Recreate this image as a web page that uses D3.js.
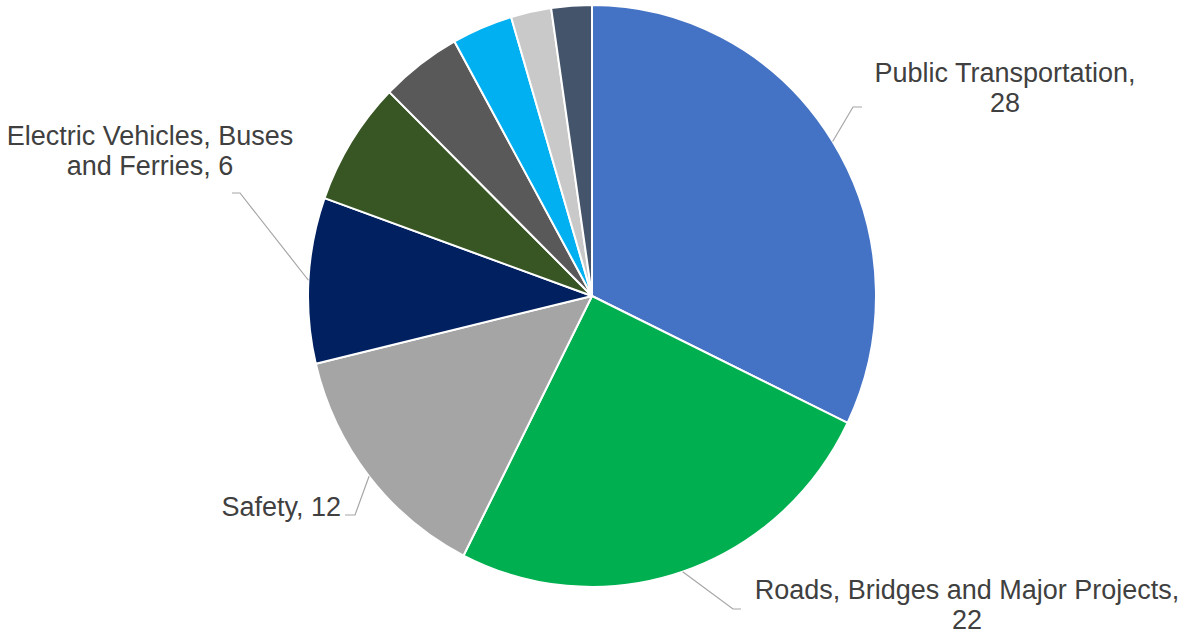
<!DOCTYPE html>
<html><head><meta charset="utf-8">
<script src="https://cdn.jsdelivr.net/npm/d3@7"></script>
<style>html,body{margin:0;padding:0;background:#fff;}svg{display:block;}</style>
</head><body>
<svg id="chart" width="1186" height="635"></svg>
<script>
const categories = ["Public Transportation", "Roads, Bridges and Major Projects", "Safety", "Other 1", "Electric Vehicles, Buses and Ferries", "Other 2", "Other 3", "Other 4", "Other 5"];
const values = [28, 22, 12, 8, 6, 4, 3, 2, 2];
const colors = ["#4472C4", "#00B050", "#A5A5A5", "#002060", "#375623", "#595959", "#00B0F0", "#C9C9C9", "#44546A"];
const labelSlices = [0, 1, 2, 4];
const labelTargets = [0, 1, 2, 3];
const labelLines = [["Public Transportation,", "28"], ["Roads, Bridges and Major Projects,", "22"], ["Safety, 12"], ["Electric Vehicles, Buses", "and Ferries, 6"]];
const labelAnchors = [[1005, 82, "middle"], [967, 599, "middle"], [341, 516, "end"], [150, 145, "middle"]];
const labelElbows = [[[853, 107], [862, 107]], [[733, 609], [741, 609]], [[355, 515], [345, 515]], [[240, 193], [232, 193]]];

const svg = d3.select("#chart");
const cx = 592, cy = 296, R = 291, sx = 284 / 291;
const data = categories.map((c, i) => ({name: c, value: values[i], color: colors[i]}));
const pie = d3.pie().value(d => d.value).sort(null).startAngle(0).endAngle(2 * Math.PI);
const arcs = pie(data);
const arc = d3.arc().innerRadius(0).outerRadius(R);
const g = svg.append("g").attr("transform", `translate(${cx},${cy}) scale(${sx},1)`);
g.selectAll("path").data(arcs).join("path")
  .attr("d", arc).attr("fill", d => d.data.color)
  .attr("stroke", "#fff").attr("stroke-width", 2).attr("stroke-linejoin", "round")
  .attr("vector-effect", "non-scaling-stroke");

const edgeArc = d3.arc().innerRadius(R).outerRadius(R);
labelSlices.forEach((si, k) => {
  const a = arcs[labelTargets[k]];
  const [px, py] = edgeArc.centroid(a);
  const pts = [[cx + px * sx, cy + py], ...labelElbows[k]];
  svg.append("path").attr("d", d3.line()(pts)).attr("fill", "none")
    .attr("stroke", "#A6A6A6").attr("stroke-width", 1.2);
  const [tx, ty, anchor] = labelAnchors[k];
  const t = svg.append("text").attr("x", tx).attr("y", ty).attr("text-anchor", anchor)
    .attr("font-family", "Liberation Sans, Arial, sans-serif").attr("font-size", 27)
    .attr("fill", "#404040");
  labelLines[k].forEach((ln, j) => {
    t.append("tspan").attr("x", tx).attr("dy", j === 0 ? 0 : 30).text(ln);
  });
});
</script>
</body></html>
